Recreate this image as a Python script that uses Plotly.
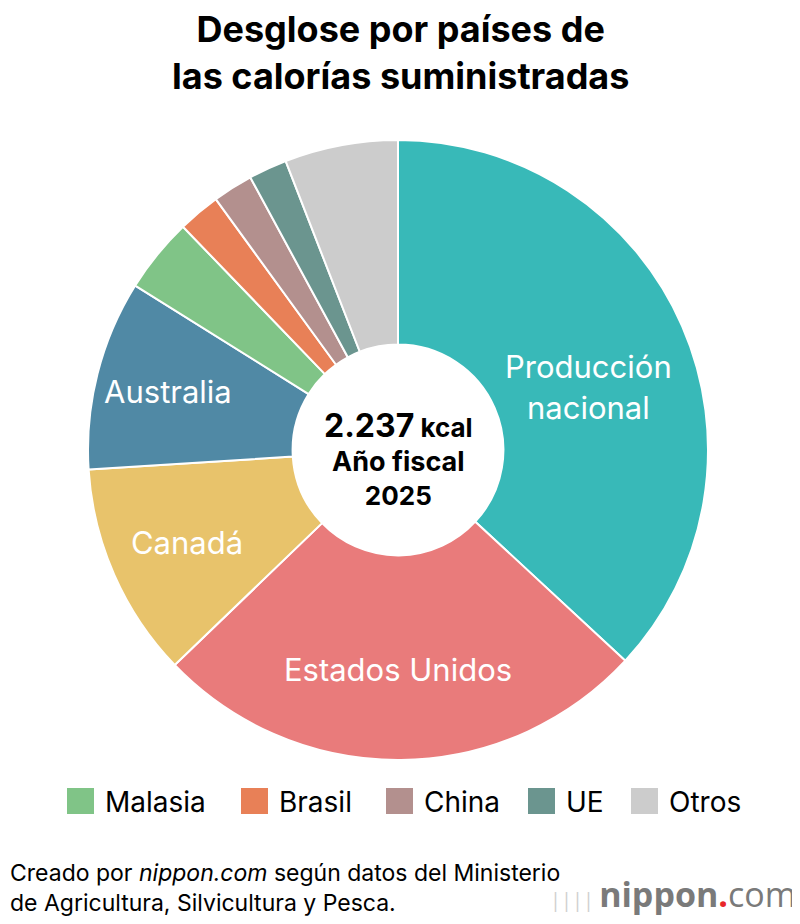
import plotly.graph_objects as go

# Breakdown of supplied calories by origin (share of total, %)
labels = ["Producción nacional", "Estados Unidos", "Canadá", "Australia",
          "Malasia", "Brasil", "China", "UE", "Otros"]
shares = [36.9, 25.9, 11.2, 9.9, 3.9, 2.2, 2.1, 2.0, 5.9]
slice_text = [" <br>Producción<br>nacional", "Estados Unidos", "Canadá", "Australia",
              "", "", "", "", ""]
colors = ["#38b9b8", "#e97b7b", "#e8c36b", "#5089a5",
          "#80c487", "#e88057", "#b3908e", "#6b958f", "#cccccc"]

legend_names = ["Malasia", "Brasil", "China", "UE", "Otros"]

# page body has an 8px margin, so the figure is a bit smaller and shifted
OFF = 8
W, H = 800 - OFF, 924 - OFF
FONT = "Inter, Liberation Sans, Arial, sans-serif"


def P(x, y):
    """reference pixel position -> paper coords"""
    return (x - OFF) / W, 1 - (y - OFF) / H


fig = go.Figure()
fig.add_trace(go.Pie(
    labels=labels,
    values=shares,
    text=slice_text,
    textinfo="text",
    textposition="inside",
    insidetextorientation="horizontal",
    textfont=dict(family=FONT, size=31, color="white"),
    marker=dict(colors=colors, line=dict(color="white", width=2)),
    sort=False,
    direction="clockwise",
    rotation=0,
    hole=0.34,
    showlegend=False,
    hoverinfo="label+percent",
    domain=dict(x=[P(88, 0)[0], P(708, 0)[0]], y=[P(0, 760)[1], P(0, 140)[1]]),
))

annotations = [
    dict(x=P(400, 0)[0], y=P(0, 53)[1], xref="paper", yref="paper",
         text="<b>Desglose por países de<br>las calorías suministradas</b>",
         showarrow=False, font=dict(family=FONT, size=36, color="black"),
         xanchor="center", yanchor="middle"),
    dict(x=P(398, 0)[0], y=P(0, 458)[1], xref="paper", yref="paper",
         text="<b><span style='font-size:32px'>2.237</span> kcal<br>"
              "<span style='font-size:27px'>Año fiscal</span><br>"
              "<span style='font-size:26px'>2025</span></b>",
         showarrow=False, font=dict(family=FONT, size=26, color="black"),
         xanchor="center", yanchor="middle"),
    dict(x=0, y=P(0, 888)[1], xref="paper", yref="paper",
         text="Creado por <i>nippon.com</i> según datos del Ministerio<br>de Agricultura, Silvicultura y Pesca.",
         showarrow=False, align="left", font=dict(family=FONT, size=23, color="black"),
         xanchor="left", yanchor="middle"),
    dict(x=P(798, 0)[0], y=P(0, 894)[1], xref="paper", yref="paper",
         text="<span style='color:#cfcfcf;font-size:20px'>|||| </span><b>nippon</b>"
              "<span style='color:#e8262a'><b>.</b></span>com",
         showarrow=False, font=dict(family="Open Sans, sans-serif", size=34, color="#7a7a7a"),
         xanchor="right", yanchor="middle"),
]

# custom legend for the small slices
shapes = []
swatch_x = [67, 241, 386, 528, 631]
for name, sx in zip(legend_names, swatch_x):
    c = colors[labels.index(name)]
    x0, y0 = P(sx, 788)
    x1, y1 = P(sx + 27, 814)
    shapes.append(dict(type="rect", xref="paper", yref="paper",
                       x0=x0, x1=x1, y0=y1, y1=y0,
                       fillcolor=c, line=dict(width=0)))
    annotations.append(dict(x=P(sx + 36, 0)[0], y=P(0, 802)[1],
                            xref="paper", yref="paper", text=name,
                            showarrow=False, xanchor="left", yanchor="middle",
                            font=dict(family=FONT, size=28, color="black")))

fig.update_layout(
    width=W, height=H,
    margin=dict(l=0, r=0, t=0, b=0),
    paper_bgcolor="white",
    plot_bgcolor="white",
    annotations=annotations,
    shapes=shapes,
)

fig.write_html("out.html")
